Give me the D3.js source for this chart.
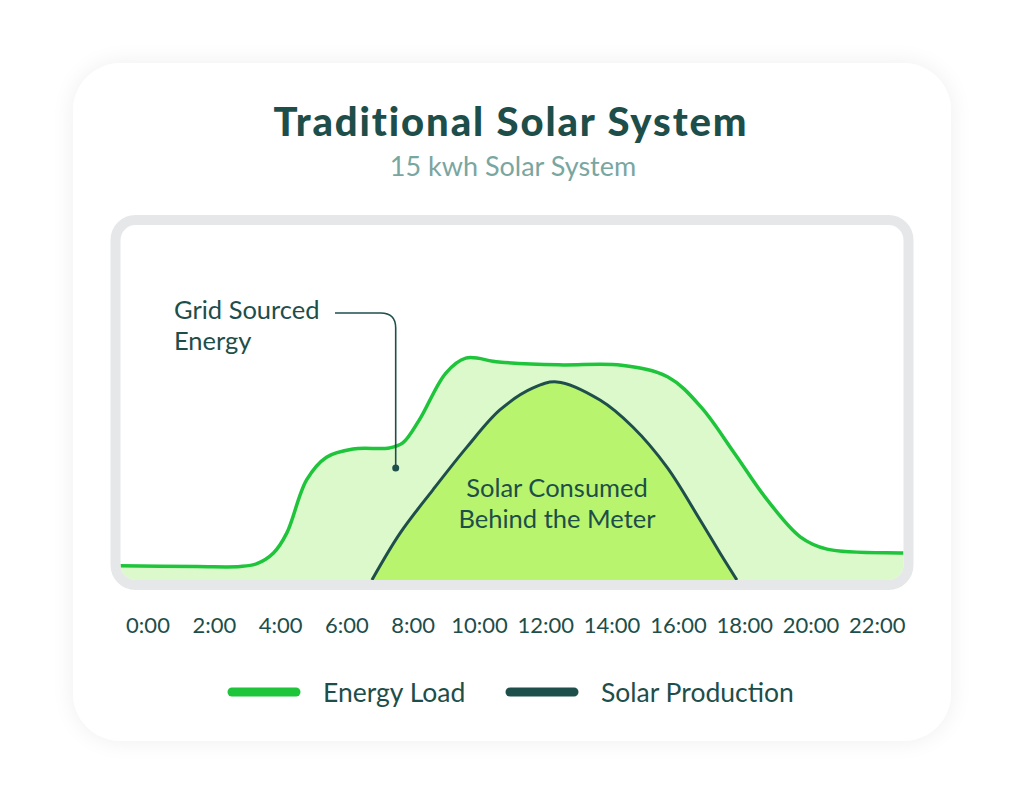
<!DOCTYPE html>
<html>
<head>
<meta charset="utf-8">
<script src="https://cdn.jsdelivr.net/npm/d3@7"></script>
<style>
  body { margin: 0; background: #fff; }
  svg text { font-family: Lato, "Open Sans", sans-serif; fill: #1d4e4a; }
</style>
</head>
<body>
<svg id="chart"></svg>
<script>
// Hours of the day shown on the axis
const tickHours = [0, 2, 4, 6, 8, 10, 12, 14, 16, 18, 20, 22];
const tickLabels = ["0:00", "2:00", "4:00", "6:00", "8:00", "10:00", "12:00", "14:00", "16:00", "18:00", "20:00", "22:00"];

// Energy load (kW)
const loadHours = [-1, 1.5, 2.8, 3.3, 3.8, 4.2, 4.8, 5.4, 6.2, 7.3, 7.7, 8.2, 9.0, 9.6, 10.6, 12.4, 14.3, 15.7, 16.7, 17.7, 18.7, 19.7, 20.5, 22.8, 23.5];
const loadValues = [0.4, 0.38, 0.38, 0.46, 0.76, 1.32, 2.82, 3.46, 3.69, 3.72, 3.86, 4.51, 5.83, 6.25, 6.14, 6.06, 6.05, 5.72, 4.87, 3.58, 2.25, 1.21, 0.87, 0.76, 0.75];

// Solar production (kW)
const solarHours = [6.77, 7.62, 8.61, 9.64, 10.63, 11.63, 12.35, 13.65, 14.64, 15.67, 16.67, 17.27, 17.78];
const solarValues = [0, 1.32, 2.54, 3.75, 4.79, 5.41, 5.58, 5.07, 4.31, 3.18, 1.69, 0.76, 0];

const legendItems = ["Energy Load", "Solar Production"];
const legendColors = ["#1ec43a", "#1f4f4b"];

const W = 1024, H = 805;
const plot = {left: 120.5, top: 225, right: 903.5, bottom: 580};

const svg = d3.select("#chart").attr("width", W).attr("height", H);
const defs = svg.append("defs");

// soft card shadow
const shadow = defs.append("filter").attr("id", "shadow")
    .attr("x", "-10%").attr("y", "-10%").attr("width", "120%").attr("height", "120%");
shadow.append("feGaussianBlur").attr("in", "SourceAlpha").attr("stdDeviation", 12);
shadow.append("feComponentTransfer").append("feFuncA").attr("type", "linear").attr("slope", 0.07);
const merge = shadow.append("feMerge");
merge.append("feMergeNode");
merge.append("feMergeNode").attr("in", "SourceGraphic");

defs.append("clipPath").attr("id", "plotClip")
  .append("rect")
    .attr("x", plot.left).attr("y", plot.top)
    .attr("width", plot.right - plot.left).attr("height", plot.bottom - plot.top)
    .attr("rx", 15);

// card
svg.append("rect")
    .attr("x", 73).attr("y", 63).attr("width", 878).attr("height", 678)
    .attr("rx", 48).attr("fill", "#fff")
    .attr("filter", "url(#shadow)");

// title
svg.append("text")
    .attr("x", 511).attr("y", 136).attr("text-anchor", "middle")
    .style("font-size", "40px").style("font-weight", 900)
    .style("letter-spacing", "1.9px")
    .text("Traditional Solar System");

svg.append("text")
    .attr("x", 513).attr("y", 176).attr("text-anchor", "middle")
    .style("font-size", "27px").style("fill", "#7aa6a1")
    .text("15 kwh Solar System");

// scales
const x = d3.scaleLinear().domain([0, 22]).range([147.5, 876.8]);
const y = d3.scaleLinear().domain([0, 10]).range([plot.bottom, plot.top]);

const load = loadHours.map((h, i) => ({h, v: loadValues[i]}));
const solar = solarHours.map((h, i) => ({h, v: solarValues[i]}));

const curve = d3.curveCatmullRom.alpha(0.5);
const area = d3.area().curve(curve)
    .x(d => x(d.h)).y0(plot.bottom + 10).y1(d => y(d.v));
const line = d3.line().curve(curve)
    .x(d => x(d.h)).y(d => y(d.v));

const g = svg.append("g").attr("clip-path", "url(#plotClip)");

g.append("path").datum(load).attr("d", area).attr("fill", "#dcf9cc");
g.append("path").datum(solar).attr("d", area).attr("fill", "#b8f46e");
g.append("path").datum(load).attr("d", line)
    .attr("fill", "none").attr("stroke", legendColors[0]).attr("stroke-width", 3.5);
g.append("path").datum(solar).attr("d", line)
    .attr("fill", "none").attr("stroke", legendColors[1]).attr("stroke-width", 3);

// frame
svg.append("rect")
    .attr("x", plot.left - 5).attr("y", plot.top - 5)
    .attr("width", plot.right - plot.left + 10).attr("height", plot.bottom - plot.top + 10)
    .attr("rx", 20).attr("fill", "none")
    .attr("stroke", "#e6e7e9").attr("stroke-width", 10);

// annotations
svg.append("text")
    .attr("x", 557).attr("y", 497).attr("text-anchor", "middle")
    .style("font-size", "25.5px")
    .selectAll("tspan")
    .data(["Solar Consumed", "Behind the Meter"])
    .join("tspan")
    .attr("x", 557).attr("dy", (d, i) => i ? 31 : 0)
    .text(d => d);

svg.append("text")
    .attr("x", 174).attr("y", 319)
    .style("font-size", "25.5px")
    .selectAll("tspan")
    .data(["Grid Sourced", "Energy"])
    .join("tspan")
    .attr("x", 174).attr("dy", (d, i) => i ? 31 : 0)
    .text(d => d);

const lx = 395.7, ly = 313, r = 15;
svg.append("path")
    .attr("d", `M335,${ly} H${lx - r} Q${lx},${ly} ${lx},${ly + r} V468`)
    .attr("fill", "none").attr("stroke", "#1f4f4b").attr("stroke-width", 1.6);
svg.append("circle").attr("cx", lx).attr("cy", 468).attr("r", 3.5).attr("fill", "#1f4f4b");

// x axis labels
const axis = svg.append("g")
    .attr("transform", `translate(0,${633})`)
    .call(d3.axisBottom(x).tickValues(tickHours).tickSize(0).tickPadding(0)
        .tickFormat((d, i) => tickLabels[i]));
axis.select(".domain").remove();
axis.selectAll("text")
    .attr("dy", 0)
    .style("font-size", "22px")
    .style("font-family", "Lato, sans-serif")
    .attr("fill", "#1d4e4a");

// legend
const legendX = [228, 506];
const legend = svg.append("g").selectAll("g")
    .data(legendItems)
    .join("g")
    .attr("transform", (d, i) => `translate(${legendX[i]},692)`);
legend.append("line")
    .attr("x1", 4).attr("x2", 68)
    .attr("stroke", (d, i) => legendColors[i])
    .attr("stroke-width", 9).attr("stroke-linecap", "round");
legend.append("text")
    .attr("x", 95).attr("y", 10)
    .style("font-size", "26.5px")
    .text(d => d);
</script>
</body>
</html>
